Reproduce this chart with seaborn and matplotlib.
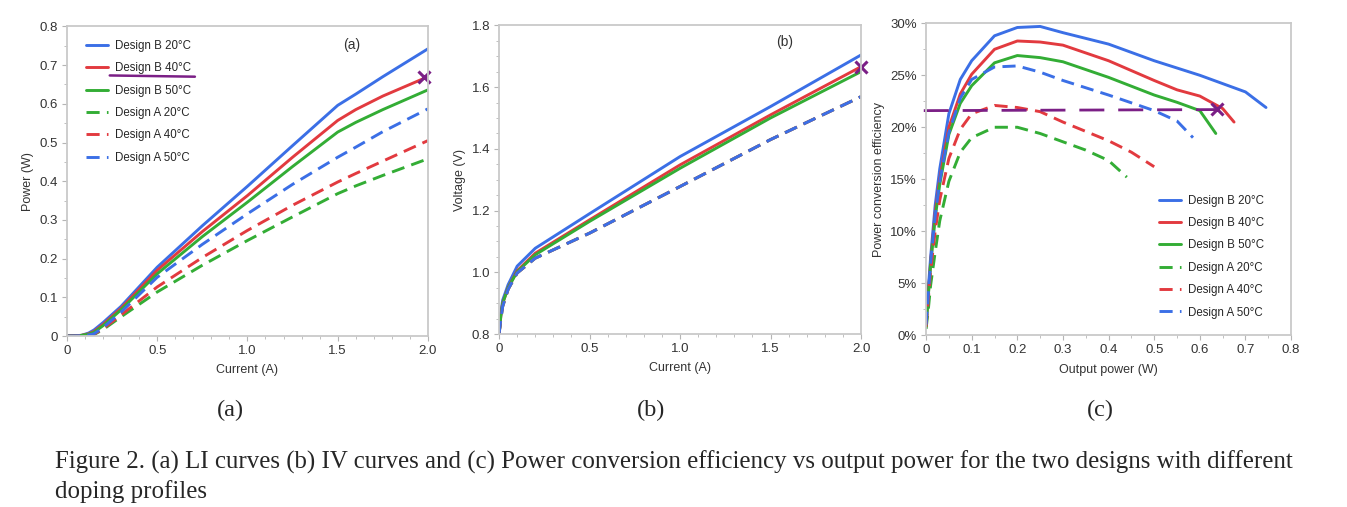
import numpy as np
import pandas as pd
import matplotlib
matplotlib.use("Agg")
import matplotlib.pyplot as plt
import seaborn as sns
from matplotlib.ticker import MultipleLocator, FuncFormatter

# Series names and styles
series = ["Design B 20\u00b0C", "Design B 40\u00b0C", "Design B 50\u00b0C",
          "Design A 20\u00b0C", "Design A 40\u00b0C", "Design A 50\u00b0C"]
colors = ["#3b6fe6", "#e23a3f", "#33ad35", "#33ad35", "#e23a3f", "#3b6fe6"]
dashed = [False, False, False, True, True, True]

# (a) LI curves: current (A) vs power (W)
li_current = [0, 0.08, 0.12, 0.15, 0.2, 0.3, 0.5, 0.75, 1.0, 1.25, 1.5, 1.6, 1.75, 2.0]
li_b20 = [0, 0.002, 0.008, 0.016, 0.035, 0.077, 0.178, 0.285, 0.387, 0.492, 0.596, 0.625, 0.670, 0.742]
li_b40 = [0, 0.002, 0.006, 0.012, 0.030, 0.072, 0.170, 0.270, 0.363, 0.462, 0.557, 0.585, 0.620, 0.670]
li_b50 = [0, 0.002, 0.005, 0.010, 0.027, 0.068, 0.161, 0.257, 0.346, 0.438, 0.527, 0.552, 0.585, 0.636]
li_a20 = [0, 0.001, 0.002, 0.004, 0.017, 0.050, 0.114, 0.183, 0.247, 0.308, 0.368, 0.388, 0.415, 0.458]
li_a40 = [0, 0.001, 0.002, 0.005, 0.019, 0.055, 0.127, 0.203, 0.273, 0.338, 0.398, 0.420, 0.452, 0.505]
li_a50 = [0, 0.001, 0.003, 0.006, 0.022, 0.062, 0.152, 0.237, 0.316, 0.392, 0.462, 0.488, 0.528, 0.587]

# (b) IV curves: current (A) vs voltage (V)
iv_current = [0, 0.01, 0.02, 0.05, 0.1, 0.2, 0.5, 1.0, 1.5, 2.0]
iv_b20 = [0.80, 0.87, 0.91, 0.96, 1.02, 1.078, 1.19, 1.375, 1.537, 1.704]
iv_b40 = [0.80, 0.86, 0.90, 0.95, 1.005, 1.062, 1.17, 1.348, 1.510, 1.666]
iv_b50 = [0.80, 0.86, 0.90, 0.95, 1.002, 1.057, 1.165, 1.337, 1.500, 1.650]
iv_a20 = [0.80, 0.85, 0.89, 0.945, 0.998, 1.046, 1.127, 1.278, 1.430, 1.569]
iv_a40 = [0.80, 0.85, 0.89, 0.945, 0.998, 1.046, 1.127, 1.278, 1.430, 1.569]
iv_a50 = [0.80, 0.85, 0.89, 0.945, 0.998, 1.046, 1.127, 1.278, 1.430, 1.569]

# (c) efficiency (%) vs output power (W)
pce_b20_p = [0, 0.005, 0.01, 0.02, 0.03, 0.05, 0.075, 0.1, 0.15, 0.2, 0.25, 0.3, 0.4, 0.5, 0.6, 0.7, 0.745]
pce_b20 = [1.5, 4.5, 7.5, 12.5, 16.0, 21.3, 24.6, 26.4, 28.8, 29.6, 29.7, 29.1, 28.0, 26.4, 25.0, 23.4, 21.9]
pce_b40_p = [0, 0.005, 0.01, 0.02, 0.03, 0.05, 0.075, 0.1, 0.15, 0.2, 0.25, 0.3, 0.4, 0.5, 0.55, 0.6, 0.65, 0.675]
pce_b40 = [1.0, 4.0, 7.0, 11.8, 15.0, 20.0, 23.2, 25.1, 27.5, 28.3, 28.2, 27.9, 26.4, 24.5, 23.6, 23.0, 21.8, 20.5]
pce_b50_p = [0, 0.005, 0.01, 0.02, 0.03, 0.05, 0.075, 0.1, 0.15, 0.2, 0.25, 0.3, 0.4, 0.5, 0.55, 0.6, 0.635]
pce_b50 = [0.8, 3.8, 6.8, 11.3, 14.5, 19.3, 22.3, 24.0, 26.2, 26.9, 26.7, 26.3, 24.8, 23.1, 22.4, 21.6, 19.4]
pce_a20_p = [0, 0.005, 0.01, 0.02, 0.03, 0.05, 0.075, 0.1, 0.15, 0.2, 0.25, 0.3, 0.35, 0.4, 0.44]
pce_a20 = [0.6, 2.5, 4.8, 8.0, 11.0, 14.8, 17.6, 19.0, 20.0, 20.0, 19.4, 18.6, 17.8, 16.8, 15.2]
pce_a40_p = [0, 0.005, 0.01, 0.02, 0.03, 0.05, 0.075, 0.1, 0.15, 0.2, 0.25, 0.3, 0.4, 0.45, 0.5]
pce_a40 = [0.8, 3.5, 6.2, 10.0, 13.0, 17.0, 19.8, 21.3, 22.1, 21.9, 21.5, 20.5, 18.7, 17.6, 16.2]
pce_a50_p = [0, 0.005, 0.01, 0.02, 0.03, 0.05, 0.075, 0.1, 0.15, 0.2, 0.25, 0.3, 0.4, 0.5, 0.55, 0.585]
pce_a50 = [1.0, 4.0, 7.0, 11.5, 14.8, 19.5, 22.8, 24.6, 25.8, 25.9, 25.3, 24.5, 23.1, 21.6, 20.6, 19.0]

sns.set_theme(style="white")
plt.rcParams["font.family"] = ["Liberation Sans", "DejaVu Sans"]

fig = plt.figure(figsize=(13.47, 5.07), dpi=100)
ax_a = fig.add_axes([0.0497, 0.337, 0.268, 0.611])
ax_b = fig.add_axes([0.3705, 0.341, 0.2687, 0.609])
ax_c = fig.add_axes([0.6875, 0.339, 0.271, 0.615])

dash_pat = (0, (4.5, 2.5))


def draw(ax, xs, ys):
    for name, x, y, col, dsh in zip(series, xs, ys, colors, dashed):
        df = pd.DataFrame({"x": x, "y": y})
        sns.lineplot(data=df, x="x", y="y", ax=ax, color=col, lw=2.1,
                     linestyle=dash_pat if dsh else "-", label=name,
                     sort=False, legend=False)


def style(ax):
    for sp in ax.spines.values():
        sp.set_color("#c9c9c9")
        sp.set_linewidth(1.3)
    ax.tick_params(which="both", direction="out", color="#b5b5b5",
                   labelsize=9.5, labelcolor="#333333", pad=3,
                   bottom=True, left=True)
    ax.tick_params(which="major", length=3.5, width=0.8)
    ax.tick_params(which="minor", length=2.5, width=0.6)
    ax.xaxis.label.set_size(9)
    ax.yaxis.label.set_size(9)
    ax.xaxis.label.set_color("#333333")
    ax.yaxis.label.set_color("#333333")


def num_fmt(v, _):
    return "0" if abs(v) < 1e-9 else f"{v:.1f}"


leg_kw = dict(frameon=False, fontsize=8.3, handlelength=1.9,
              labelspacing=0.9, handletextpad=0.6)

# (a)
draw(ax_a, [li_current] * 6, [li_b20, li_b40, li_b50, li_a20, li_a40, li_a50])
ax_a.set_xlim(0, 2.0)
ax_a.set_ylim(0, 0.8)
ax_a.xaxis.set_major_locator(MultipleLocator(0.5))
ax_a.xaxis.set_minor_locator(MultipleLocator(0.1))
ax_a.yaxis.set_major_locator(MultipleLocator(0.1))
ax_a.yaxis.set_minor_locator(MultipleLocator(0.05))
ax_a.xaxis.set_major_formatter(FuncFormatter(num_fmt))
ax_a.yaxis.set_major_formatter(FuncFormatter(num_fmt))
ax_a.set_xlabel("Current (A)", labelpad=5)
ax_a.set_ylabel("Power (W)", labelpad=4)
style(ax_a)
ax_a.text(0.79, 0.94, "(a)", transform=ax_a.transAxes, fontsize=10, color="#333333",
          ha="center", va="center")
leg_a = ax_a.legend(loc="upper left", bbox_to_anchor=(0.025, 0.99), **leg_kw)

# (b)
draw(ax_b, [iv_current] * 6, [iv_b20, iv_b40, iv_b50, iv_a20, iv_a40, iv_a50])
ax_b.set_xlim(0, 2.0)
ax_b.set_ylim(0.8, 1.8)
ax_b.xaxis.set_major_locator(MultipleLocator(0.5))
ax_b.xaxis.set_minor_locator(MultipleLocator(0.1))
ax_b.yaxis.set_major_locator(MultipleLocator(0.2))
ax_b.yaxis.set_minor_locator(MultipleLocator(0.05))
ax_b.xaxis.set_major_formatter(FuncFormatter(num_fmt))
ax_b.yaxis.set_major_formatter(FuncFormatter(num_fmt))
ax_b.set_xlabel("Current (A)", labelpad=5)
ax_b.set_ylabel("Voltage (V)", labelpad=4)
style(ax_b)
ax_b.text(0.79, 0.945, "(b)", transform=ax_b.transAxes, fontsize=10, color="#333333",
          ha="center", va="center")

# (c)
draw(ax_c, [pce_b20_p, pce_b40_p, pce_b50_p, pce_a20_p, pce_a40_p, pce_a50_p],
     [pce_b20, pce_b40, pce_b50, pce_a20, pce_a40, pce_a50])
ax_c.set_xlim(0, 0.8)
ax_c.set_ylim(0, 30)
ax_c.xaxis.set_major_locator(MultipleLocator(0.1))
ax_c.xaxis.set_minor_locator(MultipleLocator(0.05))
ax_c.yaxis.set_major_locator(MultipleLocator(5))
ax_c.yaxis.set_minor_locator(MultipleLocator(2.5))
ax_c.xaxis.set_major_formatter(FuncFormatter(num_fmt))
ax_c.yaxis.set_major_formatter(FuncFormatter(lambda v, _: f"{v:.0f}%"))
ax_c.set_xlabel("Output power (W)", labelpad=6)
ax_c.set_ylabel("Power conversion efficiency", labelpad=4)
style(ax_c)
ax_c.legend(loc="lower right", bbox_to_anchor=(0.955, 0.02), **leg_kw)

# purple hand-drawn marks
purple = "#7b1f86"
fig.canvas.draw()
txt = leg_a.get_texts()[1]
bb = txt.get_window_extent().transformed(ax_a.transAxes.inverted())
ax_a.plot([bb.x0 - 0.015, bb.x1 + 0.01], [bb.y0 - 0.004, bb.y0 - 0.008],
          transform=ax_a.transAxes, color=purple, lw=1.8, clip_on=False)
ax_a.plot([1.98], [0.67], marker="x", ms=9, mew=2.2, color=purple, clip_on=False)
ax_b.plot([2.0], [1.665], marker="x", ms=9, mew=2.2, color=purple, clip_on=False)
ax_c.plot([-0.005, 0.637], [21.6, 21.7], color=purple, lw=2.0,
          linestyle=(0, (9, 5)), clip_on=False)
ax_c.plot([0.637], [21.8], marker="x", ms=9, mew=2.2, color=purple, clip_on=False)

# panel letters and caption
serif = ["Liberation Serif", "DejaVu Serif"]
for xc, lab in [(0.171, "(a)"), (0.483, "(b)"), (0.817, "(c)")]:
    fig.text(xc, 0.19, lab, ha="center", va="center", fontsize=17.5, family=serif)
fig.text(0.041, 0.0888,
         "Figure 2. (a) LI curves (b) IV curves and (c) Power conversion efficiency vs output power for the two designs with different",
         ha="left", va="center", fontsize=17.9, family=serif)
fig.text(0.041, 0.0296, "doping profiles",
         ha="left", va="center", fontsize=17.9, family=serif)

fig.savefig("out.png", dpi=100)
